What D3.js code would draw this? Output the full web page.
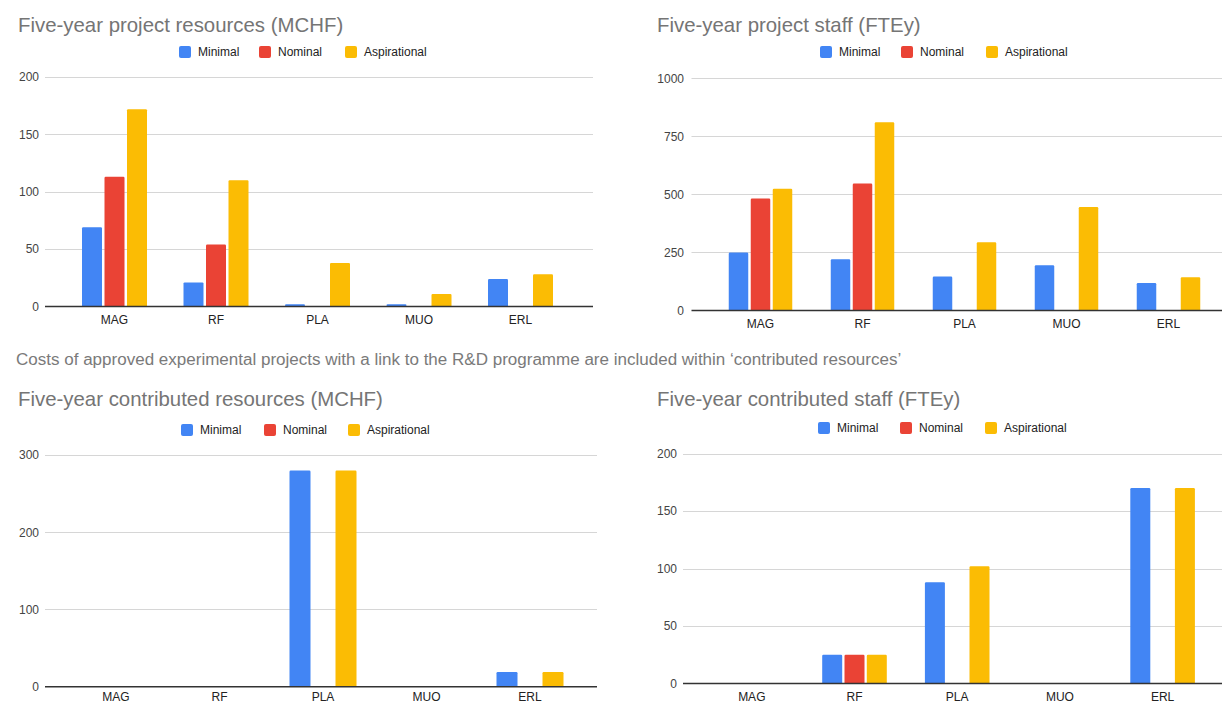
<!DOCTYPE html>
<html>
<head>
<meta charset="utf-8">
<script src="https://cdn.jsdelivr.net/npm/d3@7"></script>
<style>
  html, body { margin: 0; padding: 0; background: #fff; }
  svg { display: block; font-family: "Liberation Sans", Arial, sans-serif; }
</style>
</head>
<body>
<svg id="chart" width="1222" height="704"></svg>
<script>
// ---- data ----
const categories = ["MAG", "RF", "PLA", "MUO", "ERL"];
const seriesNames = ["Minimal", "Nominal", "Aspirational"];
const seriesColors = ["#4285F4", "#EA4335", "#FBBC04"];

// Five-year project resources (MCHF)
const resMinimal = [69, 21, 2, 2, 24];
const resNominal = [113, 54, 0, 0, 0];
const resAspirational = [172, 110, 38, 11, 28];
const resTicks = [0, 50, 100, 150, 200];

// Five-year project staff (FTEy)
const staffMinimal = [250, 221, 146, 195, 118];
const staffNominal = [482, 547, 0, 0, 0];
const staffAspirational = [524, 811, 294, 446, 143];
const staffTicks = [0, 250, 500, 750, 1000];

// Five-year contributed resources (MCHF)
const contribResMinimal = [0, 0, 280, 0, 19];
const contribResNominal = [0, 0, 0, 0, 0];
const contribResAspirational = [0, 0, 280, 0, 19];
const contribResTicks = [0, 100, 200, 300];

// Five-year contributed staff (FTEy)
const contribStaffMinimal = [0, 25, 88, 0, 170];
const contribStaffNominal = [0, 25, 0, 0, 0];
const contribStaffAspirational = [0, 25, 102, 0, 170];
const contribStaffTicks = [0, 50, 100, 150, 200];

const caption = "Costs of approved experimental projects with a link to the R&D programme are included within \u2018contributed resources\u2019";

// ---- layout for each panel ----
const panels = [
  { title: "Five-year project resources (MCHF)", series: [resMinimal, resNominal, resAspirational], ticks: resTicks,
    titleX: 18, titleY: 31.5, legendY: 52, legendX: [179, 259, 345],
    gridX0: 45, gridX1: 593, yBottom: 306.5, yTop: 77, labelX: 39, xLabelDy: 17,
    firstCenter: 114.5, step: 101.5, barW: 20, gap: 2.5 },
  { title: "Five-year project staff (FTEy)", series: [staffMinimal, staffNominal, staffAspirational], ticks: staffTicks,
    titleX: 657, titleY: 31.5, legendY: 52, legendX: [820, 901, 986],
    gridX0: 691.5, gridX1: 1222, yBottom: 310.5, yTop: 78.3, labelX: 684, xLabelDy: 17,
    firstCenter: 760.5, step: 102, barW: 19.5, gap: 2.5 },
  { title: "Five-year contributed resources (MCHF)", series: [contribResMinimal, contribResNominal, contribResAspirational], ticks: contribResTicks,
    titleX: 18, titleY: 405.5, legendY: 430, legendX: [181, 264, 348],
    gridX0: 45, gridX1: 597, yBottom: 686.7, yTop: 455, labelX: 39, xLabelDy: 14.3,
    firstCenter: 116, step: 103.5, barW: 21, gap: 2 },
  { title: "Five-year contributed staff (FTEy)", series: [contribStaffMinimal, contribStaffNominal, contribStaffAspirational], ticks: contribStaffTicks,
    titleX: 657, titleY: 405.5, legendY: 428, legendX: [818, 900, 985],
    gridX0: 683, gridX1: 1222, yBottom: 683.5, yTop: 453.5, labelX: 677, xLabelDy: 17,
    firstCenter: 751.8, step: 102.7, barW: 20, gap: 2.3 }
];

const svg = d3.select("#chart");

panels.forEach(p => {
  const g = svg.append("g");
  const yMax = p.ticks[p.ticks.length - 1];

  const x = d3.scaleBand()
    .domain(categories)
    .range([p.firstCenter - p.step / 2, p.firstCenter - p.step / 2 + p.step * categories.length])
    .paddingInner(0).paddingOuter(0);

  const groupW = 3 * p.barW + 2 * p.gap;
  const xs = d3.scaleBand()
    .domain(seriesNames)
    .range([0, groupW])
    .paddingInner(p.gap / (p.barW + p.gap))
    .paddingOuter(0);

  const y = d3.scaleLinear().domain([0, yMax]).range([p.yBottom, p.yTop]);

  // title
  g.append("text")
    .attr("x", p.titleX).attr("y", p.titleY)
    .attr("font-size", 20.4).attr("fill", "#757575")
    .text(p.title);

  // legend
  seriesNames.forEach((name, i) => {
    g.append("rect")
      .attr("x", p.legendX[i]).attr("y", p.legendY - 6)
      .attr("width", 12).attr("height", 12).attr("rx", 2)
      .attr("fill", seriesColors[i]);
    g.append("text")
      .attr("x", p.legendX[i] + 19).attr("y", p.legendY + 4.3)
      .attr("font-size", 12).attr("fill", "#222")
      .text(name);
  });

  // gridlines
  g.selectAll("line.grid")
    .data(p.ticks.filter(t => t !== 0))
    .join("line")
    .attr("class", "grid")
    .attr("x1", p.gridX0).attr("x2", p.gridX1)
    .attr("y1", d => Math.round(y(d)) + 0.5).attr("y2", d => Math.round(y(d)) + 0.5)
    .attr("stroke", "#d6d6d6").attr("stroke-width", 1.2);

  // y axis labels
  const yAxis = d3.axisLeft(y).tickValues(p.ticks).tickSize(0).tickPadding(0).tickFormat(d3.format("d"));
  const ya = g.append("g").attr("transform", `translate(${p.labelX},0)`).call(yAxis);
  ya.select(".domain").remove();
  ya.selectAll("text").attr("font-size", 12).attr("fill", "#444")
    .attr("font-family", "\"Liberation Sans\", Arial, sans-serif");

  // bars
  p.series.forEach((vals, si) => {
    g.selectAll(`rect.s${si}`)
      .data(categories.map((c, ci) => ({ c, v: vals[ci] })).filter(d => d.v > 0))
      .join("rect")
      .attr("class", `s${si}`)
      .attr("x", d => x(d.c) + x.bandwidth() / 2 - groupW / 2 + xs(seriesNames[si]))
      .attr("y", d => y(d.v))
      .attr("width", xs.bandwidth())
      .attr("height", d => y(0) - y(d.v))
      .attr("rx", 1.2)
      .attr("fill", seriesColors[si]);
  });

  // baseline
  g.append("line")
    .attr("x1", p.gridX0).attr("x2", p.gridX1)
    .attr("y1", y(0)).attr("y2", y(0))
    .attr("stroke", "#333").attr("stroke-width", 1.4);

  // x axis labels
  const xAxis = d3.axisBottom(x).tickSize(0).tickPadding(0);
  const xa = g.append("g").attr("transform", `translate(0,${y(0) + p.xLabelDy})`).call(xAxis);
  xa.select(".domain").remove();
  xa.selectAll("text").attr("dy", 0).attr("font-size", 12).attr("fill", "#222")
    .attr("font-family", "\"Liberation Sans\", Arial, sans-serif");
});

// note between the two rows, fitted to its line width
const note = svg.append("text")
  .attr("x", 16).attr("y", 365)
  .attr("font-size", 15).attr("fill", "#7a7a7a")
  .text(caption);
const w = note.node().getComputedTextLength();
note.attr("font-size", 15 * 886 / w);
</script>
</body>
</html>
